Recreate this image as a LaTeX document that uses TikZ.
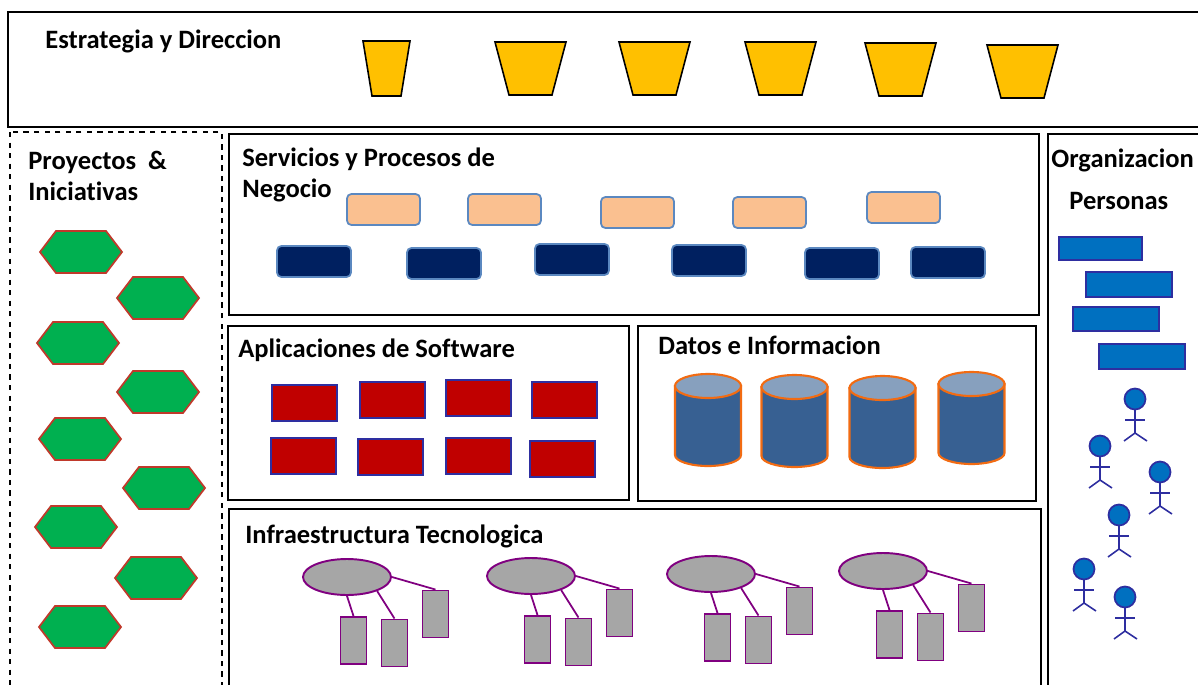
\documentclass[tikz,border=0pt]{standalone}
\usepackage{fontspec}
\setmainfont{Carlito}[Ligatures=NoCommon]
\usetikzlibrary{shapes.geometric}
\definecolor{amber}{HTML}{FFC000}
\definecolor{hexgreen}{HTML}{00B050}
\definecolor{hexred}{HTML}{C0392B}
\definecolor{peach}{HTML}{FAC090}
\definecolor{steel}{HTML}{5B88C0}
\definecolor{navy}{HTML}{002060}
\definecolor{appred}{HTML}{C00000}
\definecolor{inkblue}{HTML}{2E2EA0}
\definecolor{barblue}{HTML}{0070C0}
\definecolor{dbblue}{HTML}{376092}
\definecolor{dbtop}{HTML}{87A0BE}
\definecolor{dborange}{HTML}{F26B12}
\definecolor{srvgrey}{HTML}{A6A6A6}
\definecolor{srvpurple}{HTML}{800080}
\tikzset{
  panel/.style={draw=black,line width=1pt},
  title/.style={anchor=base west,inner sep=0pt,font=\fontsize{15.1}{15.1}\selectfont\bfseries},
  cup/.style={draw=black,line width=0.9pt,fill=amber},
  hexbox/.style={draw=hexred,line width=1pt,fill=hexgreen},
  peachbox/.style={draw=steel,line width=1pt,fill=peach,rounded corners=2.5pt},
  navybox/.style={draw=steel,line width=1pt,fill=navy,rounded corners=2.5pt},
  appbox/.style={draw=inkblue,line width=0.9pt,fill=appred},
  barbox/.style={draw=inkblue,line width=1pt,fill=barblue},
  dbbody/.style={draw=dborange,line width=1.2pt,fill=dbblue},
  dbend/.style={draw=dborange,line width=1.2pt,fill=dbtop},
  srvnode/.style={ellipse,draw=srvpurple,line width=1.1pt,fill=srvgrey,minimum width=1.76cm,minimum height=0.72cm,inner sep=0pt},
  srvbox/.style={rectangle,draw=srvpurple,line width=1.1pt,fill=srvgrey,minimum width=0.52cm,minimum height=0.94cm,inner sep=0pt},
  srvline/.style={draw=srvpurple,line width=1pt},
  headnode/.style={circle,draw=inkblue,line width=1pt,fill=barblue,minimum size=0.42cm,inner sep=0pt},
  stick/.style={draw=inkblue,line width=0.9pt}
}
\begin{document}
\begin{tikzpicture}[x=0.02cm,y=-0.02cm]
\useasboundingbox (0,0) rectangle (1198,684);
\clip (0,0) rectangle (1198,684);
\draw[panel] (8,12) rectangle (1230,127);
\draw[panel,dashed] (10,132) rectangle (222,720);
\draw[panel] (229,134) rectangle (1039,315);
\draw[panel] (228,326) rectangle (629,500);
\draw[panel] (638,326) rectangle (1036,501);
\draw[panel] (229,509) rectangle (1041,720);
\draw[panel] (1048,134) rectangle (1230,720);

\node[title] (strategy) at (45,48) {Estrategia y Direccion};
\node[title] (projects) at (28,169) {Proyectos\ \ \&};
\node[title] (initiatives) at (28,200) {Iniciativas};
\node[title] (services) at (242,166) {Servicios y Procesos de};
\node[title] (business) at (242,197) {Negocio};
\node[title] (software) at (238,357) {Aplicaciones de Software};
\node[title] (data) at (658,354) {Datos e Informacion};
\node[title] (infra) at (245,543) {Infraestructura Tecnologica};
\node[title] (org) at (1051,167) {Organizacion};
\node[title] (people) at (1069,209) {Personas};

\draw[cup] (363,41) -- (410,41) -- (401,96) -- (372,96) -- cycle;
\foreach \x/\y in {495/42,619/42,745/42,865/43,987/45}
  \draw[cup,shift={(\x,\y)}] (0,0) -- (71,0) -- (57,53) -- (14,53) -- cycle;

\foreach \x/\y in {81/252,158/298,78/343,158/392,80/439,164/488,76/527,156/578,80/627}
  \draw[hexbox,shift={(\x,\y)}] (-41,0) -- (-25,-21) -- (25,-21) -- (41,0) -- (25,21) -- (-25,21) -- cycle;

\foreach \x/\y in {347/194,468/194,601/197,733/197,867/192}
  \draw[peachbox] (\x,\y) rectangle ++(73,31);
\foreach \x/\y in {277/246,407/248,535/244,672/245,805/248,911/247}
  \draw[navybox] (\x,\y) rectangle ++(74,31);

\foreach \x/\y in {272/385,360/382,446/380,532/382,271/438,358/439,446/438,530/441}
  \draw[appbox] (\x,\y) rectangle ++(65,36);

\foreach \x/\y in {708/374,794.5/375,882.5/376,971.5/372}{
  \draw[dbbody] (\x-33,\y+12) -- (\x-33,\y+81) arc (180:0:33 and 11) -- (\x+33,\y+12) -- cycle;
  \draw[dbend] (\x,\y+12) ellipse (33 and 12);
}

\foreach \i/\x/\y in {1/347/577,2/531/576,3/711/574,4/883/571}{
  \node[srvnode] (srv\i) at (\x,\y) {};
  \node[srvbox] (srv\i a) at (\x+6.5,\y+63.5) {};
  \node[srvbox] (srv\i b) at (\x+47.5,\y+66) {};
  \node[srvbox] (srv\i c) at (\x+88.5,\y+37) {};
  \draw[srvline] (srv\i.-90) -- (srv\i a.north);
  \draw[srvline] (srv\i.-25) -- (srv\i b.north);
  \draw[srvline] (srv\i.0) -- (srv\i c.north);
}

\draw[barbox] (1059,237) rectangle (1142,260);
\draw[barbox] (1086,272) rectangle (1172,297);
\draw[barbox] (1073,307) rectangle (1159,331);
\draw[barbox] (1099,344) rectangle (1185,369);

\foreach \i/\x/\y in {1/1135/399,2/1100/446,3/1160/472,4/1119/515,5/1084/569,6/1125/597}{
  \coordinate (hip\i) at (\x,\y+34);
  \draw[stick] (\x,\y) -- (hip\i);
  \draw[stick] (\x-10,\y+21) -- (\x+10,\y+21);
  \draw[stick] (\x-11,\y+42) -- (hip\i) -- (\x+12,\y+42);
  \node[headnode] (head\i) at (\x,\y) {};
}
\end{tikzpicture}
\end{document}
